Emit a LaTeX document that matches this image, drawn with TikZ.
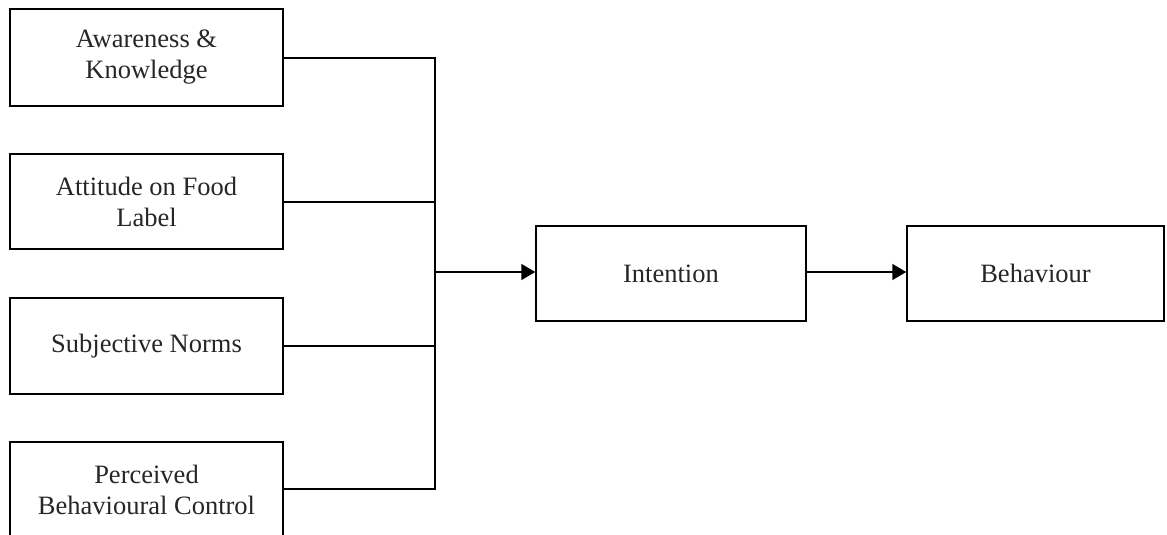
\documentclass[tikz,border=0pt]{standalone}
\usepackage{fontspec}
\setmainfont{Liberation Serif}
\usetikzlibrary{arrows.meta}
\begin{document}
\begin{tikzpicture}[x=1pt,y=-1pt,
  box/.style={draw=black, line width=1.5pt, inner sep=0pt, align=center,
    font=\fontsize{26.5}{31}\selectfont, text=black!85},
  conn/.style={draw=black, line width=1.7pt},
  arr/.style={conn, -{Triangle[length=14pt,width=16pt]}}]
\clip (0,0) rectangle (1167,535);
\fill[white] (0,0) rectangle (1167,535);
\node[box, minimum width=273pt, minimum height=97pt] (b1) at (146.5,57.5) {Awareness \&\\Knowledge};
\node[box, minimum width=273pt, minimum height=95pt] (b2) at (146.5,201.5) {Attitude on Food\\Label};
\node[box, minimum width=273pt, minimum height=96pt] (b3) at (146.5,346) {Subjective Norms};
\node[box, minimum width=273pt, minimum height=96pt] (b4) at (146.5,490) {Perceived\\Behavioural Control};
\node[box, minimum width=270pt, minimum height=95pt] (int) at (671,273.5) {Intention};
\node[box, minimum width=257pt, minimum height=95pt] (beh) at (1035.5,273.5) {Behaviour};
\coordinate (J) at (435,272);
\draw[conn] (b1.east |- 0,58) -- (J |- 0,58) -- (J |- 0,489) -- (b4.east |- 0,489);
\draw[conn] (b2.east |- 0,202) -- (J |- 0,202);
\draw[conn] (b3.east |- 0,346) -- (J |- 0,346);
\draw[arr] (J) -- (J -| int.west);
\draw[arr] (int.east |- J) -- (beh.west |- J);
\end{tikzpicture}
\end{document}
